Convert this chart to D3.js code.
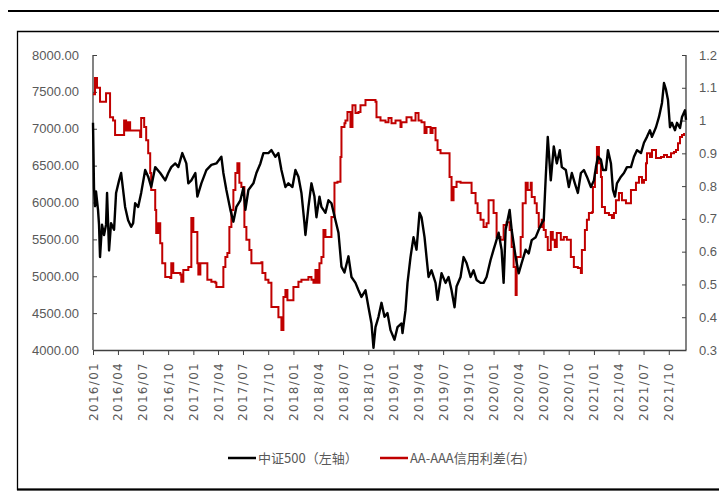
<!DOCTYPE html>
<html>
<head>
<meta charset="utf-8">
<script src="https://cdn.jsdelivr.net/npm/d3@7"></script>
<style>
  body { margin: 0; background: #fff; }
  .ylab { font-family: "Liberation Sans Narrow", "Arial Narrow", sans-serif; font-size: 13px; fill: #595959; }
  .xlab { font-family: "DejaVu Sans", sans-serif; font-size: 12px; fill: #595959; letter-spacing: 1.3px; }
  .leg { font-family: "Noto Sans CJK SC", sans-serif; font-size: 13px; fill: #595959; }
</style>
</head>
<body>
<svg id="chart" width="719" height="496"></svg>
<script>
// 中证500, [decimal year, value]
let csi500 = [
  [2016.00, 7080], [2016.01, 6200], [2016.02, 5950], [2016.03, 6150], [2016.05, 5900], [2016.06, 5700],
  [2016.07, 5260], [2016.09, 5700], [2016.11, 5560], [2016.13, 5700], [2016.14, 6130], [2016.16, 5350],
  [2016.18, 5720], [2016.21, 5630], [2016.23, 6130], [2016.26, 6300], [2016.28, 6400], [2016.30, 6170],
  [2016.32, 5940], [2016.35, 5760], [2016.38, 5670], [2016.40, 5720], [2016.42, 5990], [2016.45, 5940],
  [2016.48, 6130], [2016.52, 6440], [2016.55, 6350], [2016.58, 6210], [2016.62, 6480], [2016.67, 6400],
  [2016.72, 6300], [2016.75, 6400], [2016.78, 6480], [2016.82, 6530], [2016.85, 6480], [2016.89, 6670],
  [2016.93, 6530], [2016.95, 6260], [2016.98, 6300], [2017.02, 6400], [2017.04, 6080], [2017.08, 6260],
  [2017.13, 6440], [2017.18, 6510], [2017.23, 6530], [2017.28, 6620], [2017.30, 6400], [2017.33, 6170],
  [2017.37, 5900], [2017.40, 5740], [2017.43, 5940], [2017.47, 6030], [2017.50, 6200], [2017.52, 5900],
  [2017.55, 6170], [2017.60, 6260], [2017.63, 6400], [2017.67, 6530], [2017.70, 6670], [2017.75, 6670],
  [2017.78, 6710], [2017.82, 6620], [2017.85, 6670], [2017.88, 6440], [2017.92, 6210], [2017.95, 6260],
  [2017.99, 6210], [2018.02, 6440], [2018.05, 6350], [2018.08, 6130], [2018.11, 5720], [2018.12, 5560],
  [2018.15, 5940], [2018.18, 6260], [2018.21, 6080], [2018.23, 5800], [2018.26, 6080], [2018.28, 5940],
  [2018.32, 5860], [2018.35, 6030], [2018.38, 5990], [2018.42, 5760], [2018.45, 5590], [2018.48, 5130],
  [2018.51, 5050], [2018.55, 5270], [2018.58, 4990], [2018.62, 4910], [2018.65, 4810], [2018.68, 4720],
  [2018.72, 4810], [2018.75, 4580], [2018.78, 4360], [2018.80, 4030], [2018.82, 4310], [2018.85, 4450],
  [2018.88, 4640], [2018.91, 4450], [2018.94, 4500], [2018.97, 4270], [2019.01, 4140], [2019.04, 4310],
  [2019.08, 4360], [2019.09, 4230], [2019.12, 4540], [2019.14, 4910], [2019.17, 5260], [2019.20, 5530],
  [2019.23, 5360], [2019.26, 5860], [2019.28, 5800], [2019.31, 5530], [2019.33, 5260], [2019.35, 4990],
  [2019.38, 5080], [2019.42, 4910], [2019.44, 4680], [2019.48, 5040], [2019.52, 4910], [2019.55, 4990],
  [2019.58, 4810], [2019.61, 4580], [2019.63, 4860], [2019.67, 4990], [2019.70, 5260], [2019.73, 5180],
  [2019.77, 4990], [2019.80, 5080], [2019.83, 4950], [2019.87, 4910], [2019.90, 4910], [2019.93, 4990],
  [2019.97, 5220], [2020.00, 5360], [2020.02, 5450], [2020.05, 5590], [2020.08, 5360], [2020.10, 4910],
  [2020.12, 5630], [2020.16, 5900], [2020.18, 5630], [2020.22, 5260], [2020.25, 5040], [2020.28, 5180],
  [2020.32, 5360], [2020.35, 5310], [2020.38, 5490], [2020.42, 5530], [2020.45, 5630], [2020.48, 5720],
  [2020.50, 5760], [2020.52, 6350], [2020.54, 6890], [2020.57, 6300], [2020.60, 6760], [2020.63, 6530],
  [2020.66, 6710], [2020.68, 6480], [2020.72, 6440], [2020.75, 6210], [2020.78, 6400], [2020.81, 6260],
  [2020.84, 6130], [2020.87, 6400], [2020.90, 6440], [2020.93, 6350], [2020.97, 6210], [2021.00, 6300],
  [2021.02, 6480], [2021.04, 6620], [2021.07, 6580], [2021.09, 6440], [2021.12, 6440], [2021.14, 6710],
  [2021.17, 6530], [2021.19, 6170], [2021.21, 6080], [2021.23, 6260], [2021.27, 6350], [2021.30, 6400],
  [2021.33, 6480], [2021.37, 6480], [2021.40, 6620], [2021.43, 6710], [2021.47, 6670], [2021.50, 6810],
  [2021.53, 6890], [2021.56, 6980], [2021.58, 6890], [2021.62, 7020], [2021.65, 7160], [2021.68, 7350],
  [2021.70, 7620], [2021.72, 7530], [2021.74, 7390], [2021.76, 7020], [2021.78, 7080], [2021.81, 6980],
  [2021.83, 7080], [2021.86, 7010], [2021.88, 7160], [2021.91, 7250], [2021.92, 7120]
]

// AA-AAA信用利差, [decimal year, value]
let spread = [
  [2016.00, 1.08], [2016.02, 1.13], [2016.04, 1.10], [2016.07, 1.057], [2016.12, 1.057], [2016.13, 1.083],
  [2016.16, 1.083], [2016.17, 1.01], [2016.20, 1.0], [2016.22, 0.956], [2016.28, 0.956], [2016.31, 1.0],
  [2016.33, 0.97], [2016.35, 0.995], [2016.37, 0.97], [2016.45, 0.97], [2016.47, 0.95], [2016.48, 1.008],
  [2016.51, 0.98], [2016.53, 0.94], [2016.55, 0.90], [2016.57, 0.84], [2016.58, 0.788], [2016.62, 0.727],
  [2016.63, 0.657], [2016.65, 0.687], [2016.67, 0.626], [2016.69, 0.565], [2016.72, 0.523], [2016.77, 0.52],
  [2016.78, 0.565], [2016.80, 0.535], [2016.87, 0.53], [2016.88, 0.508], [2016.90, 0.544], [2016.95, 0.553],
  [2016.98, 0.703], [2017.00, 0.66], [2017.02, 0.66], [2017.04, 0.565], [2017.05, 0.53], [2017.07, 0.565],
  [2017.12, 0.565], [2017.14, 0.514], [2017.18, 0.508], [2017.22, 0.505], [2017.23, 0.492], [2017.28, 0.492],
  [2017.30, 0.553], [2017.32, 0.584], [2017.34, 0.596], [2017.36, 0.675], [2017.38, 0.727], [2017.40, 0.788],
  [2017.42, 0.84], [2017.44, 0.87], [2017.46, 0.81], [2017.48, 0.797], [2017.51, 0.675], [2017.53, 0.636],
  [2017.56, 0.605], [2017.58, 0.565], [2017.65, 0.565], [2017.68, 0.568], [2017.69, 0.535], [2017.72, 0.514],
  [2017.75, 0.505], [2017.78, 0.431], [2017.83, 0.431], [2017.85, 0.40], [2017.88, 0.361], [2017.90, 0.462],
  [2017.92, 0.483], [2017.94, 0.452], [2017.99, 0.452], [2018.00, 0.492], [2018.05, 0.508], [2018.08, 0.514],
  [2018.13, 0.514], [2018.15, 0.523], [2018.18, 0.514], [2018.20, 0.505], [2018.22, 0.544], [2018.24, 0.505],
  [2018.26, 0.565], [2018.28, 0.584], [2018.30, 0.666], [2018.32, 0.645], [2018.37, 0.645], [2018.38, 0.706],
  [2018.41, 0.81], [2018.44, 0.813], [2018.47, 0.889], [2018.48, 0.98], [2018.51, 0.992], [2018.52, 1.0],
  [2018.54, 1.026], [2018.57, 0.98], [2018.59, 1.047], [2018.62, 1.023], [2018.65, 1.026], [2018.67, 1.047],
  [2018.70, 1.047], [2018.72, 1.063], [2018.78, 1.063], [2018.82, 1.057], [2018.83, 1.01], [2018.87, 1.0],
  [2018.92, 0.995], [2018.95, 1.008], [2018.98, 0.992], [2019.02, 1.0], [2019.07, 0.98], [2019.08, 0.995],
  [2019.13, 1.01], [2019.18, 1.0], [2019.22, 1.023], [2019.25, 1.0], [2019.28, 0.995], [2019.31, 0.962],
  [2019.33, 0.98], [2019.37, 0.962], [2019.39, 0.977], [2019.42, 0.94], [2019.44, 0.91], [2019.47, 0.90],
  [2019.54, 0.90], [2019.56, 0.828], [2019.58, 0.757], [2019.60, 0.797], [2019.63, 0.813], [2019.67, 0.81],
  [2019.75, 0.81], [2019.78, 0.779], [2019.82, 0.748], [2019.84, 0.718], [2019.87, 0.697], [2019.90, 0.675],
  [2019.93, 0.687], [2019.95, 0.757], [2019.98, 0.757], [2020.00, 0.718], [2020.03, 0.645], [2020.07, 0.636],
  [2020.10, 0.681], [2020.13, 0.69], [2020.16, 0.666], [2020.18, 0.614], [2020.20, 0.553], [2020.22, 0.468],
  [2020.23, 0.584], [2020.27, 0.645], [2020.29, 0.748], [2020.32, 0.81], [2020.34, 0.788], [2020.37, 0.81],
  [2020.38, 0.767], [2020.41, 0.748], [2020.43, 0.718], [2020.45, 0.675], [2020.48, 0.697], [2020.50, 0.666],
  [2020.52, 0.645], [2020.54, 0.605], [2020.57, 0.66], [2020.59, 0.636], [2020.61, 0.614], [2020.63, 0.657],
  [2020.67, 0.636], [2020.70, 0.645], [2020.73, 0.636], [2020.77, 0.584], [2020.80, 0.553], [2020.84, 0.55],
  [2020.87, 0.535], [2020.88, 0.605], [2020.91, 0.666], [2020.93, 0.697], [2020.95, 0.718], [2020.98, 0.72],
  [2020.99, 0.797], [2021.01, 0.84], [2021.03, 0.919], [2021.05, 0.87], [2021.07, 0.828], [2021.08, 0.736],
  [2021.11, 0.718], [2021.15, 0.712], [2021.18, 0.703], [2021.20, 0.718], [2021.22, 0.757], [2021.25, 0.779],
  [2021.28, 0.757], [2021.32, 0.748], [2021.35, 0.748], [2021.37, 0.788], [2021.40, 0.788], [2021.42, 0.81],
  [2021.45, 0.828], [2021.48, 0.81], [2021.50, 0.819], [2021.52, 0.87], [2021.53, 0.90], [2021.56, 0.889],
  [2021.58, 0.91], [2021.62, 0.886], [2021.67, 0.889], [2021.70, 0.895], [2021.73, 0.889], [2021.77, 0.90],
  [2021.80, 0.904], [2021.82, 0.91], [2021.84, 0.931], [2021.86, 0.95], [2021.88, 0.956], [2021.90, 0.962]
]

let leftTicks = [4000, 4500, 5000, 5500, 6000, 6500, 7000, 7500, 8000]
let rightTicks = [0.3, 0.4, 0.5, 0.6, 0.7, 0.8, 0.9, 1.0, 1.1, 1.2]
let quarterTicks = ["2016/01", "2016/04", "2016/07", "2016/10", "2017/01", "2017/04", "2017/07", "2017/10",
  "2018/01", "2018/04", "2018/07", "2018/10", "2019/01", "2019/04", "2019/07", "2019/10",
  "2020/01", "2020/04", "2020/07", "2020/10", "2021/01", "2021/04", "2021/07", "2021/10"]
let legendNames = ["中证500（左轴）", "AA-AAA信用利差(右)"]

// decimal year -> Date
function toDate(t) {
  let y = Math.floor(t)
  let start = new Date(y, 0, 1), end = new Date(y + 1, 0, 1)
  return new Date(+start + (t - y) * (end - start))
}

let svg = d3.select("#chart")
let plotLeft = 93, plotRight = 686, plotTop = 55, plotBottom = 350

// frame
svg.append("line").attr("x1", 8).attr("x2", 719).attr("y1", 11).attr("y2", 11)
  .attr("stroke", "#000").attr("stroke-width", 2)
svg.append("path").attr("d", "M730,31.5H17.5V489.5H730")
  .attr("fill", "none").attr("stroke", "#000").attr("stroke-width", 1.3)
svg.append("line").attr("x1", 17).attr("x2", 719).attr("y1", 489.5).attr("y2", 489.5)
  .attr("stroke", "#000").attr("stroke-width", 2)

let xScale = d3.scaleTime()
  .domain([new Date(2016, 0, 1), toDate(2021.92)])
  .range([plotLeft, plotRight])
let yLeft = d3.scaleLinear().domain([4000, 8000]).range([plotBottom, plotTop])
let yRight = d3.scaleLinear().domain([0.3, 1.2]).range([plotBottom, plotTop])

let parseQ = d3.timeParse("%Y/%m")

// left axis
let gl = svg.append("g").attr("transform", "translate(" + plotLeft + ",0)")
  .call(d3.axisRight(yLeft).tickValues(leftTicks).tickSize(4).tickFormat(""))
gl.select(".domain").remove()
gl.selectAll(".tick line").attr("stroke", "#404040")
svg.append("line").attr("x1", plotLeft).attr("x2", plotLeft).attr("y1", plotTop).attr("y2", plotBottom)
  .attr("stroke", "#404040").attr("stroke-width", 1.3)
svg.selectAll(".ltxt").data(leftTicks).enter().append("text")
  .attr("class", "ylab").attr("x", 79).attr("y", d => yLeft(d) + 4.5)
  .attr("text-anchor", "end").text(d => d3.format(".2f")(d))

// right axis
let gr = svg.append("g").attr("transform", "translate(" + plotRight + ",0)")
  .call(d3.axisLeft(yRight).tickValues(rightTicks).tickSize(4).tickFormat(""))
gr.select(".domain").remove()
gr.selectAll(".tick line").attr("stroke", "#404040")
svg.append("line").attr("x1", plotRight).attr("x2", plotRight).attr("y1", plotTop).attr("y2", plotBottom)
  .attr("stroke", "#404040").attr("stroke-width", 1.3)
svg.selectAll(".rtxt").data(rightTicks).enter().append("text")
  .attr("class", "ylab").attr("x", 699).attr("y", d => yRight(d) + 4.5)
  .text(d => String(+d.toFixed(1)))

// bottom axis
let gb = svg.append("g").attr("transform", "translate(0," + plotBottom + ")")
  .call(d3.axisBottom(xScale).tickValues(quarterTicks.map(parseQ)).tickSize(5).tickSizeOuter(0).tickFormat(""))
gb.select(".domain").attr("stroke", "#404040").attr("stroke-width", 1.3)
gb.selectAll(".tick line").attr("stroke", "#404040")
svg.selectAll(".xtxt").data(quarterTicks).enter().append("text")
  .attr("class", "xlab")
  .attr("transform", d => "translate(" + (xScale(parseQ(d)) + 4.5) + ",362) rotate(-90)")
  .attr("text-anchor", "end").text(d => d)

// lines
let blackLine = d3.line().x(d => xScale(toDate(d[0]))).y(d => yLeft(d[1]))
let redLine = d3.line().curve(d3.curveStepAfter).x(d => xScale(toDate(d[0]))).y(d => yRight(d[1]))

svg.append("path").datum(spread).attr("d", redLine)
  .attr("fill", "none").attr("stroke", "#C00000").attr("stroke-width", 2)
svg.append("path").datum(csi500).attr("d", blackLine)
  .attr("fill", "none").attr("stroke", "#000").attr("stroke-width", 2.4).attr("stroke-linejoin", "round")

// legend
let legendColors = ["#000", "#C00000"]
let legendX = [228, 380]
legendNames.forEach((n, i) => {
  svg.append("line").attr("x1", legendX[i]).attr("x2", legendX[i] + 28).attr("y1", 458).attr("y2", 458)
    .attr("stroke", legendColors[i]).attr("stroke-width", 2.5)
  svg.append("text").attr("class", "leg").attr("x", legendX[i] + 30).attr("y", 463).text(n)
})
</script>
</body>
</html>
